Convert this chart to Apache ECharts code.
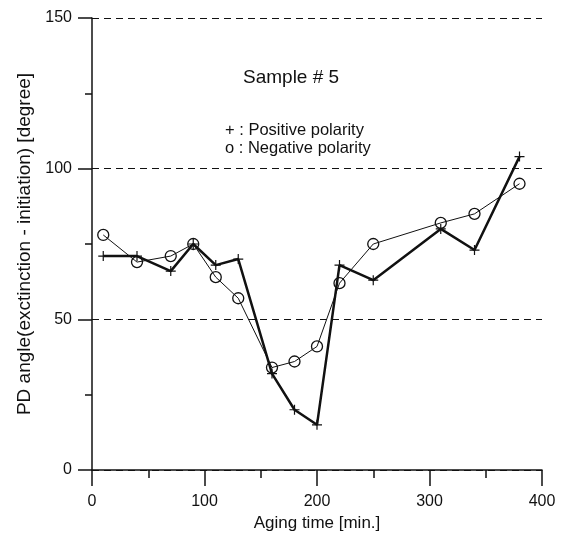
<!DOCTYPE html>
<html>
<head>
<meta charset="utf-8">
<script src="https://cdn.jsdelivr.net/npm/echarts@6/dist/echarts.min.js"></script>
<style>
  html, body { margin: 0; padding: 0; background: #fff; }
  #chart { width: 566px; height: 541px; }
</style>
</head>
<body>
<div id="chart"></div>
<script>
// Aging time [min.] for each measurement
const agingTime = [10, 40, 70, 90, 110, 130, 160, 180, 200, 220, 250, 310, 340, 380];
// PD angle (extinction - initiation) in degrees
const positivePolarity = [71, 71, 66, 75, 68, 70, 32, 20, 15, 68, 63, 80, 73, 104];
const negativePolarity = [78, 69, 71, 75, 64, 57, 34, 36, 41, 62, 75, 82, 85, 95];
// Axis ranges and tick steps
const xRange = [0, 400];
const xStep = 100;
const yRange = [0, 150];
const yStep = 50;

const FONT = '"Liberation Sans", Arial, sans-serif';
const INK = '#111';

// thin "+" marker drawn as a filled outline
const plusSymbol = 'path://M4.4,0H5.6V4.4H10V5.6H5.6V10H4.4V5.6H0V4.4H4.4Z';

const chart = echarts.init(document.getElementById('chart'), null, { renderer: 'canvas' });

chart.setOption({
  backgroundColor: '#fff',
  animation: false,
  grid: { left: 92, right: 24, top: 18, bottom: 71, containLabel: false },
  xAxis: {
    type: 'value',
    min: xRange[0], max: xRange[1], interval: xStep,
    name: 'Aging time [min.]',
    nameLocation: 'middle',
    nameGap: 45,
    nameTextStyle: { fontFamily: FONT, fontSize: 17, color: INK },
    axisLine: { show: true, lineStyle: { color: INK, width: 1.5 } },
    axisTick: { show: true, inside: false, length: 16, lineStyle: { color: INK, width: 1.5 } },
    minorTick: { show: true, splitNumber: 2, length: 8, lineStyle: { color: INK, width: 1.5 } },
    axisLabel: { margin: 24, fontFamily: FONT, fontSize: 16, color: INK },
    splitLine: { show: false }
  },
  yAxis: {
    type: 'value',
    min: yRange[0], max: yRange[1], interval: yStep,
    name: 'PD angle(exctinction - initiation) [degree]',
    nameLocation: 'middle',
    nameGap: 58,
    nameTextStyle: { fontFamily: FONT, fontSize: 19, color: INK },
    axisLine: { show: true, lineStyle: { color: INK, width: 1.5 } },
    axisTick: { show: true, inside: false, length: 14, lineStyle: { color: INK, width: 1.5 } },
    minorTick: { show: true, splitNumber: 2, length: 7, lineStyle: { color: INK, width: 1.5 } },
    axisLabel: { margin: 20, fontFamily: FONT, fontSize: 16, color: INK },
    splitLine: { show: true, lineStyle: { color: INK, width: 1, type: [7, 5] } }
  },
  graphic: [
    { type: 'text', left: 243, top: 68,
      style: { text: 'Sample # 5', font: '19px ' + FONT, fill: INK } },
    { type: 'text', left: 225, top: 122,
      style: { text: '+ : Positive polarity', font: '16.5px ' + FONT, fill: INK } },
    { type: 'text', left: 225, top: 140,
      style: { text: 'o : Negative polarity', font: '16.5px ' + FONT, fill: INK } }
  ],
  series: [
    {
      name: 'Negative polarity',
      type: 'line',
      data: agingTime.map((t, i) => [t, negativePolarity[i]]),
      symbol: 'circle',
      symbolSize: 11,
      showAllSymbol: true,
      lineStyle: { color: INK, width: 1 },
      itemStyle: { color: 'rgba(0,0,0,0)', borderColor: INK, borderWidth: 1.3 },
      z: 3
    },
    {
      name: 'Positive polarity',
      type: 'line',
      data: agingTime.map((t, i) => [t, positivePolarity[i]]),
      symbol: plusSymbol,
      symbolSize: 10,
      showAllSymbol: true,
      lineStyle: { color: INK, width: 2.5 },
      itemStyle: { color: INK, borderWidth: 0 },
      z: 2
    }
  ]
});
</script>
</body>
</html>
